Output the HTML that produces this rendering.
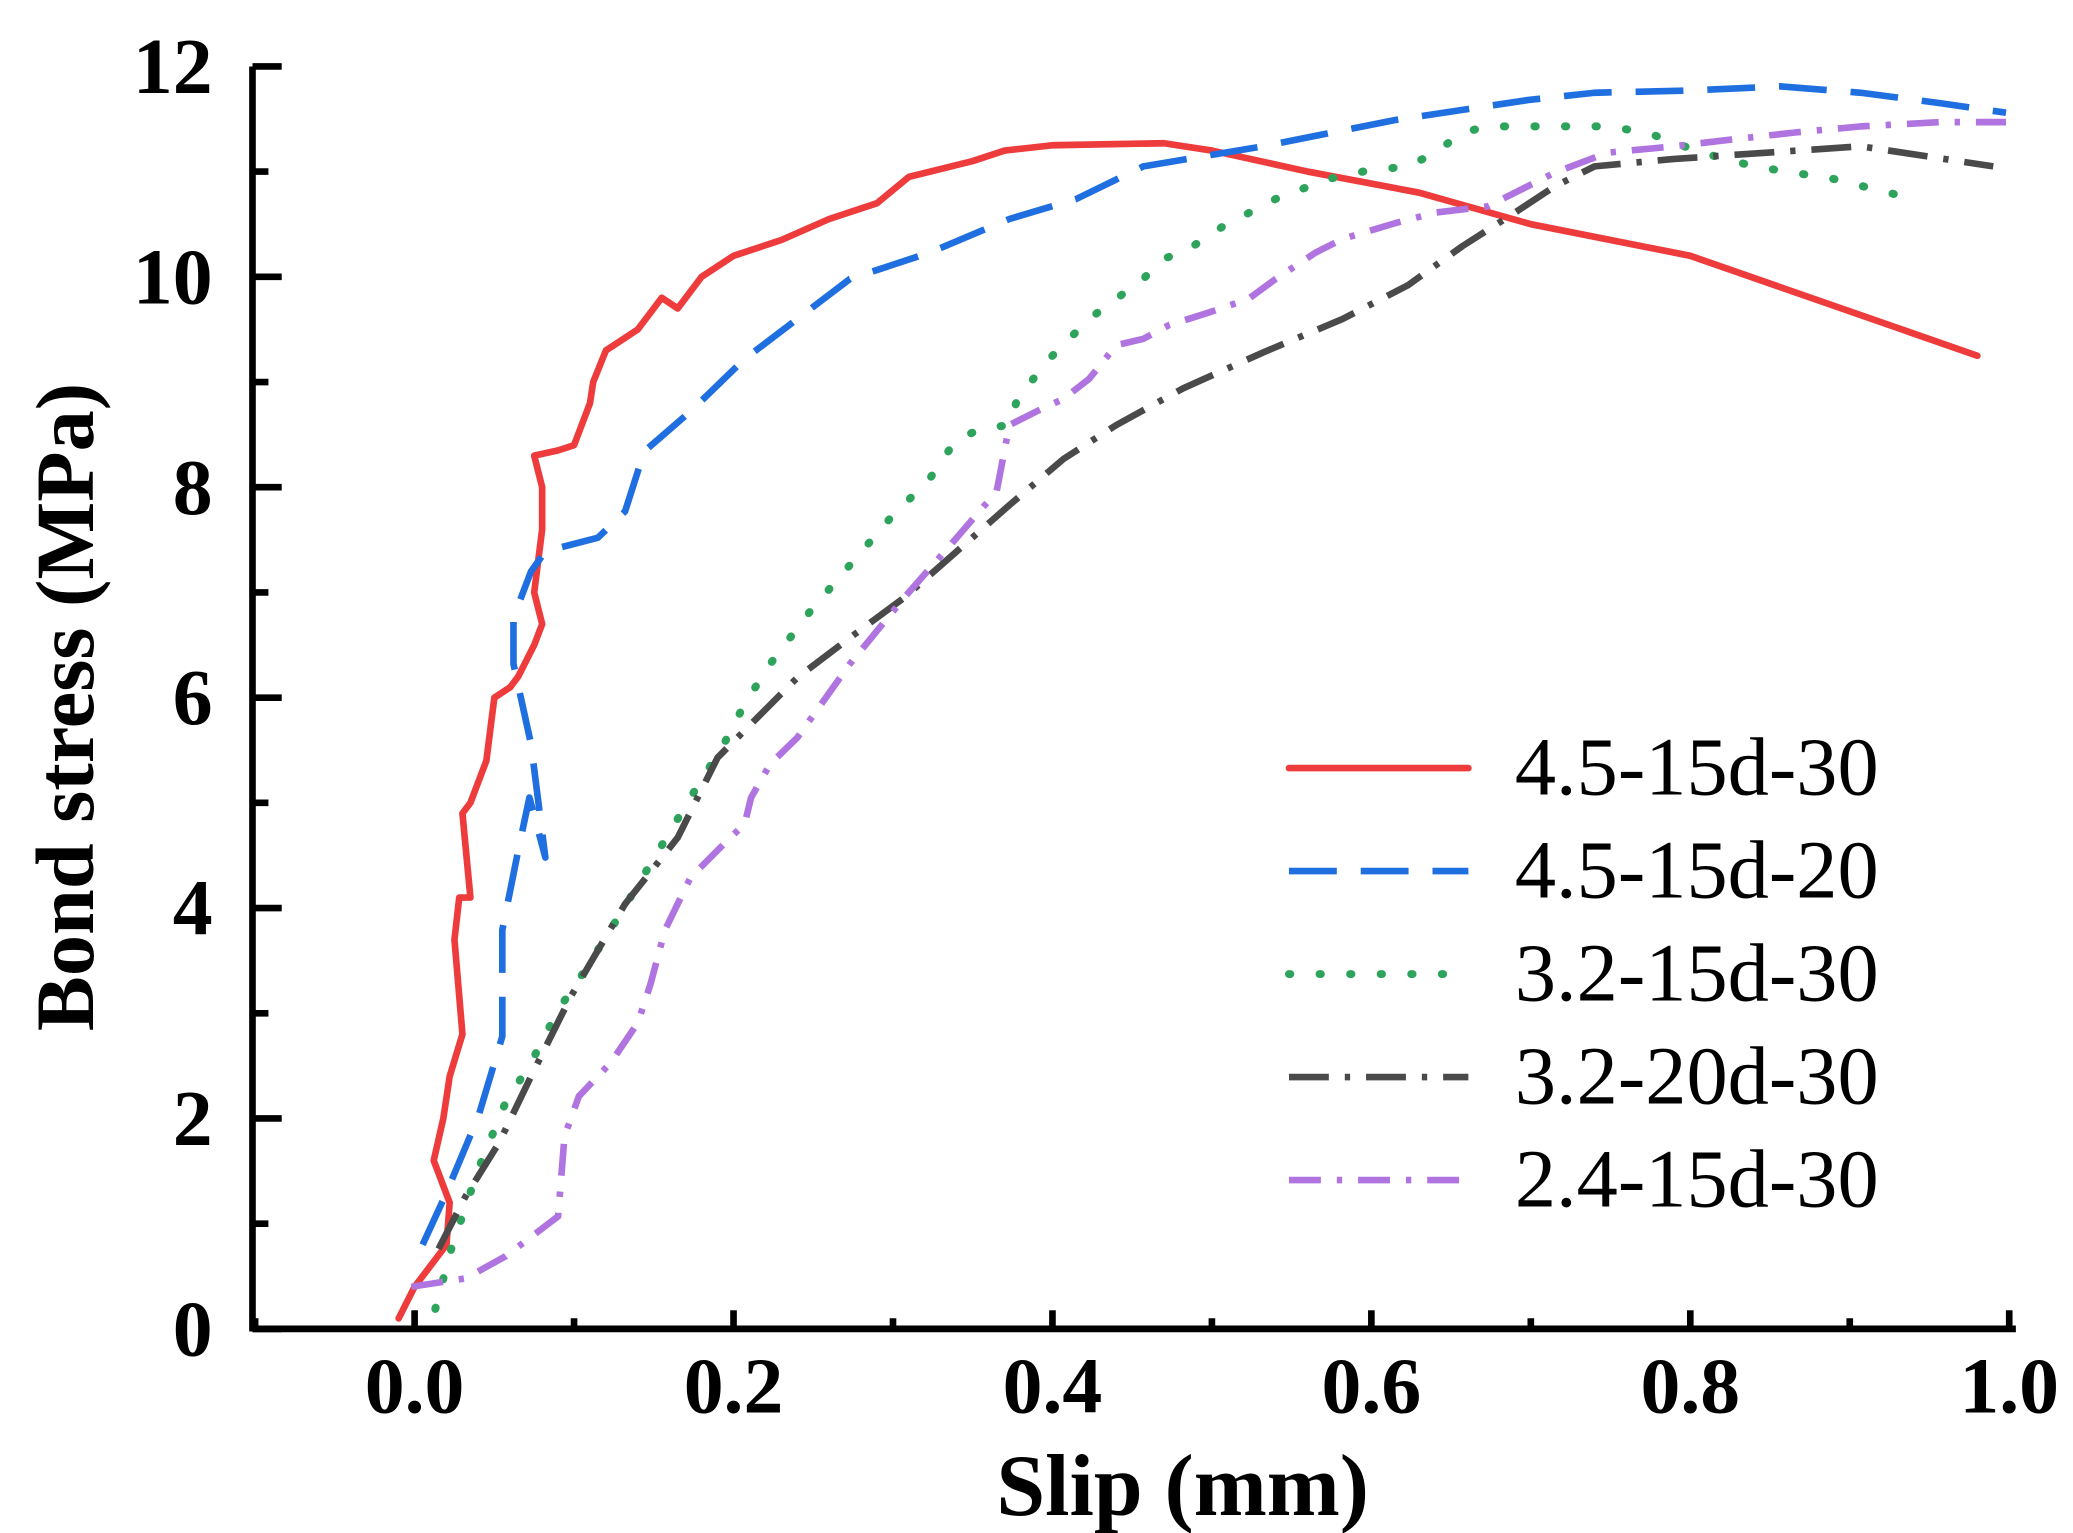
<!DOCTYPE html>
<html><head><meta charset="utf-8"><style>
html,body{margin:0;padding:0;background:#fff;}
svg{display:block;}
text{font-family:"Liberation Serif",serif;}
</style></head><body>
<svg id="chart" width="2073" height="1533" viewBox="0 0 1560 1153.6" preserveAspectRatio="none" xmlns="http://www.w3.org/2000/svg">
<g id="axes"></g>
<g id="series"></g>
<text transform="translate(70,532) rotate(-90)" text-anchor="middle" font-size="62" font-weight="bold">Bond stress (MPa)</text>
<text x="890" y="1140" text-anchor="middle" font-size="66" font-weight="bold">Slip (mm)</text>
<g id="legend"></g>
</svg>
<script>
const xTicks=[0,0.2,0.4,0.6,0.8,1.0];
const xTickLabels=["0.0","0.2","0.4","0.6","0.8","1.0"];
const yTicks=[0,2,4,6,8,10,12];
const yTickLabels=["0","2","4","6","8","10","12"];
const seriesNames=["4.5-15d-30","4.5-15d-20","3.2-15d-30","3.2-20d-30","2.4-15d-30"];
const redX=[-0.01,0,0.01,0.02,0.022,0.012,0.018,0.022,0.03,0.025,0.028,0.035,0.03,0.035,0.045,0.05,0.06,0.065,0.075,0.08,0.075,0.08,0.08,0.075,0.09,0.1,0.11,0.112,0.12,0.13,0.14,0.155,0.165,0.18,0.2,0.23,0.26,0.29,0.31,0.35,0.37,0.4,0.47,0.5,0.56,0.63,0.7,0.8,0.98];
const redY=[0.1,0.4,0.6,0.8,1.2,1.6,2.0,2.4,2.8,3.7,4.1,4.1,4.9,5.0,5.4,6.0,6.1,6.2,6.5,6.7,7.0,7.6,8.0,8.3,8.35,8.4,8.8,9.0,9.3,9.4,9.5,9.8,9.7,10.0,10.2,10.35,10.55,10.7,10.95,11.1,11.2,11.25,11.27,11.2,11.0,10.8,10.5,10.2,9.25];
const blueX=[0.005,0.019,0.04,0.055,0.055,0.065,0.072,0.082,0.073,0.062,0.062,0.073,0.082,0.115,0.132,0.144,0.173,0.207,0.24,0.273,0.323,0.373,0.415,0.457,0.532,0.615,0.698,0.74,0.798,0.857,0.907,0.957,0.998];
const blueY=[0.8,1.26,2.02,2.78,3.79,4.55,5.05,4.48,5.56,6.32,6.76,7.2,7.39,7.52,7.77,8.34,8.72,9.22,9.6,9.98,10.23,10.55,10.74,11.05,11.24,11.49,11.68,11.75,11.77,11.81,11.75,11.65,11.56];
const greenX=[0.013,0.023,0.04,0.057,0.073,0.09,0.107,0.128,0.148,0.173,0.194,0.207,0.223,0.248,0.273,0.298,0.323,0.34,0.357,0.373,0.378,0.398,0.423,0.44,0.457,0.469,0.482,0.507,0.54,0.573,0.598,0.623,0.64,0.657,0.673,0.707,0.748,0.773,0.807,0.84,0.89,0.94];
const greenY=[0.19,0.76,1.52,2.15,2.53,3.03,3.41,3.92,4.42,5.05,5.56,5.94,6.32,6.82,7.26,7.7,8.08,8.46,8.56,8.59,8.84,9.22,9.6,9.79,9.98,10.17,10.23,10.48,10.74,10.93,11.01,11.05,11.18,11.37,11.43,11.43,11.43,11.37,11.18,11.05,10.93,10.74];
const darkX=[0.015,0.032,0.053,0.073,0.098,0.132,0.165,0.19,0.215,0.24,0.273,0.307,0.34,0.373,0.407,0.44,0.482,0.532,0.582,0.623,0.657,0.69,0.715,0.74,0.79,0.848,0.907,0.99];
const darkY=[0.76,1.26,1.77,2.4,3.16,4.04,4.67,5.43,5.81,6.19,6.57,6.95,7.39,7.83,8.27,8.59,8.94,9.28,9.6,9.92,10.29,10.61,10.86,11.05,11.12,11.18,11.24,11.05];
const purpleX=[-0.002,0.032,0.057,0.09,0.094,0.103,0.123,0.14,0.148,0.157,0.173,0.194,0.207,0.211,0.223,0.24,0.273,0.307,0.34,0.365,0.373,0.39,0.407,0.423,0.44,0.457,0.473,0.498,0.523,0.54,0.565,0.582,0.615,0.64,0.673,0.715,0.748,0.79,0.823,0.865,0.907,0.957,0.998];
const purpleY=[0.4,0.48,0.69,1.07,1.83,2.21,2.53,2.91,3.28,3.79,4.29,4.61,4.8,5.05,5.37,5.62,6.32,6.95,7.52,7.96,8.59,8.72,8.84,9.03,9.35,9.41,9.54,9.66,9.79,9.98,10.23,10.36,10.51,10.61,10.67,10.99,11.18,11.24,11.3,11.37,11.43,11.47,11.47];

const NS="http://www.w3.org/2000/svg";
const X0=190,X1=1515,Y0=1000,Y1=50;
function sx(v){return 312+v*1200;}
function sy(v){return 1000-v*79.17;}
function mk(tag,attrs,parent){const e=document.createElementNS(NS,tag);for(const k in attrs)e.setAttribute(k,attrs[k]);parent.appendChild(e);return e;}
const axes=document.getElementById('axes');
let e;
e=mk('line',{x1:X0,y1:Y0,x2:X1+2,y2:Y0,stroke:'#000','stroke-width':5},axes);


e=mk('line',{x1:X0,y1:Y0+2,x2:X0,y2:Y1,stroke:'#000','stroke-width':5},axes);


for(let i=0;i<xTicks.length;i++){
  const x=sx(xTicks[i]);
  e=mk('line',{x1:x,y1:Y0,x2:x,y2:Y0-14,stroke:'#000','stroke-width':5},axes);
  
  
  if(i<xTicks.length-1){const xm=sx((xTicks[i]+xTicks[i+1])/2);
    e=mk('line',{x1:xm,y1:Y0,x2:xm,y2:Y0-8,stroke:'#000','stroke-width':5},axes);
    
    }
  e=mk('text',{x:x,y:1063,'text-anchor':'middle','font-size':60,'font-weight':'bold'},axes);
  e.textContent=xTickLabels[i];
  
  
}
{const xm=sx(xTicks[0]-0.1);e=mk('line',{x1:xm,y1:Y0,x2:xm,y2:Y0-8,stroke:'#000','stroke-width':5},axes);}
for(let i=0;i<yTicks.length;i++){
  const y=sy(yTicks[i]);
  e=mk('line',{x1:X0,y1:y,x2:X0+22,y2:y,stroke:'#000','stroke-width':5},axes);
  
  
  if(i<yTicks.length-1){const ym=sy((yTicks[i]+yTicks[i+1])/2);
    e=mk('line',{x1:X0,y1:ym,x2:X0+12,y2:ym,stroke:'#000','stroke-width':5},axes);
    
    }
  e=mk('text',{x:160,y:y+20,'text-anchor':'end','font-size':60,'font-weight':'bold'},axes);
  e.textContent=yTickLabels[i];
  
  
}
const styles=[
 {c:'#ee3b3b',d:'',cap:'round',w:5},
 {c:'#1f6fe0',d:'36 18',cap:'butt',w:5},
 {c:'#2ea35c',d:'1 22',cap:'round',w:6},
 {c:'#4a4a4a',d:'30 12 4 12',cap:'butt',w:5},
 {c:'#b074e0',d:'24 12 4 12',cap:'butt',w:5}];
const data=[[redX,redY],[blueX,blueY],[greenX,greenY],[darkX,darkY],[purpleX,purpleY]];
const sg=document.getElementById('series');
const names=['series-4-5-15d-30','series-4-5-15d-20','series-3-2-15d-30','series-3-2-20d-30','series-2-4-15d-30'];
for(let s=0;s<data.length;s++){
  const [xs,ys]=data[s];
  const pts=xs.map((v,i)=>sx(v).toFixed(1)+','+sy(ys[i]).toFixed(1)).join(' ');
  const st=styles[s];
  e=mk('polyline',{points:pts,fill:'none',stroke:st.c,'stroke-width':st.w,'stroke-dasharray':st.d,'stroke-linecap':st.cap,'stroke-linejoin':'round'},sg);
  
  
}
const lg=document.getElementById('legend');
for(let s=0;s<seriesNames.length;s++){
  const y=578+s*77.5,st=styles[s];
  e=mk('line',{x1:970,y1:y,x2:1105,y2:y,stroke:st.c,'stroke-width':st.w,'stroke-dasharray':st.d,'stroke-linecap':st.cap},lg);
  
  
  e=mk('text',{x:1140,y:y+20,'font-size':62},lg);
  e.textContent=seriesNames[s];
  
  
}
</script>
</body></html>
